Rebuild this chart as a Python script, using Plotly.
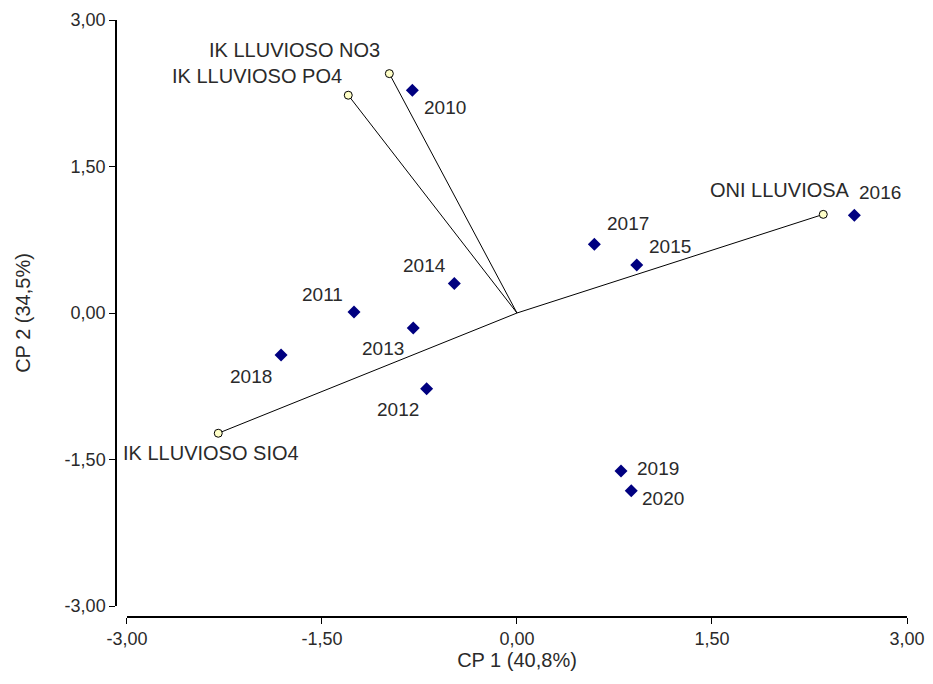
import plotly.graph_objects as go

# Observations (years)
years = ["2010", "2011", "2012", "2013", "2014", "2015", "2016", "2017", "2018", "2019", "2020"]
cp1_years = [-0.805, -1.254, -0.695, -0.798, -0.482, 0.921, 2.595, 0.595, -1.815, 0.800, 0.879]
cp2_years = [2.280, 0.010, -0.776, -0.153, 0.302, 0.491, 1.000, 0.705, -0.430, -1.617, -1.820]

# Variables (loading vectors)
variables = ["IK LLUVIOSO NO3", "IK LLUVIOSO PO4", "ONI LLUVIOSA", "IK LLUVIOSO SIO4"]
cp1_vars = [-0.982, -1.298, 2.356, -2.298]
cp2_vars = [2.451, 2.230, 1.010, -1.231]

# Axis ticks
tick_vals = [-3.0, -1.5, 0.0, 1.5, 3.0]
tick_text = ["-3,00", "-1,50", "0,00", "1,50", "3,00"]
x_title = "CP 1 (40,8%)"
y_title = "CP 2 (34,5%)"

# label placement (pixel offsets from the mark): style only
year_offsets = {
    "2010": (33, -17), "2011": (-31, 18), "2012": (-29, -21), "2013": (-30, -21),
    "2014": (-30, 18), "2015": (33, 19), "2016": (26, 23), "2017": (34, 21),
    "2018": (-30, -21), "2019": (37, 2), "2020": (32, -8),
}
var_offsets = {
    "IK LLUVIOSO NO3": ("right", -7, 24),
    "IK LLUVIOSO PO4": ("right", -4, 19),
    "ONI LLUVIOSA": ("right", 29, 24),
    "IK LLUVIOSO SIO4": ("center", -7, -20),
}

FONT = "Liberation Sans, Arial, sans-serif"
TXT = "#2a2a2a"

fig = go.Figure()

# vector lines from origin
for vx, vy in zip(cp1_vars, cp2_vars):
    fig.add_trace(go.Scatter(x=[0, vx], y=[0, vy], mode="lines",
                             line=dict(color="black", width=1),
                             hoverinfo="skip", showlegend=False))

fig.add_trace(go.Scatter(x=cp1_vars, y=cp2_vars, mode="markers",
                         marker=dict(symbol="circle", size=8, color="#FFFFC8",
                                     line=dict(color="black", width=1)),
                         text=variables, showlegend=False))

fig.add_trace(go.Scatter(x=cp1_years, y=cp2_years, mode="markers",
                         marker=dict(symbol="diamond", size=10, color="#000080",
                                     line=dict(width=0)),
                         text=years, showlegend=False))

annotations = []
for name, x, y in zip(years, cp1_years, cp2_years):
    dx, dy = year_offsets[name]
    annotations.append(dict(x=x, y=y, xref="x", yref="y", text=name, showarrow=False,
                            xanchor="center", yanchor="middle", xshift=dx, yshift=dy,
                            font=dict(family=FONT, size=19, color=TXT)))
for name, x, y in zip(variables, cp1_vars, cp2_vars):
    anc, dx, dy = var_offsets[name]
    annotations.append(dict(x=x, y=y, xref="x", yref="y", text=name, showarrow=False,
                            xanchor=anc, yanchor="middle", xshift=dx, yshift=dy,
                            font=dict(family=FONT, size=20, color=TXT)))

fig.update_layout(
    width=925, height=676,
    margin=dict(l=108, r=26, t=12, b=67, autoexpand=False),
    paper_bgcolor="white", plot_bgcolor="white",
    font=dict(family=FONT, size=18, color=TXT),
    annotations=annotations,
    xaxis=dict(range=[-3, 3], domain=[0.0139, 1], anchor="free", position=0,
               tickvals=tick_vals, ticktext=tick_text, ticklabeloverflow="allow",
               automargin=False,
               showgrid=False, zeroline=False, showline=True, linecolor="black",
               linewidth=1.5, ticks="outside", ticklen=6, tickcolor="black",
               title=dict(text=x_title, font=dict(size=20), standoff=2),
               tickfont=dict(size=18)),
    yaxis=dict(range=[-3, 3], domain=[0.0184, 1], anchor="free", position=0,
               tickvals=tick_vals, ticktext=tick_text, ticklabeloverflow="allow",
               automargin=False,
               showgrid=False, zeroline=False, showline=True, linecolor="black",
               linewidth=1.5, ticks="outside", ticklen=6, tickcolor="black",
               title=dict(text=y_title, font=dict(size=20), standoff=28),
               tickfont=dict(size=18)),
)

fig.write_html("out.html")
